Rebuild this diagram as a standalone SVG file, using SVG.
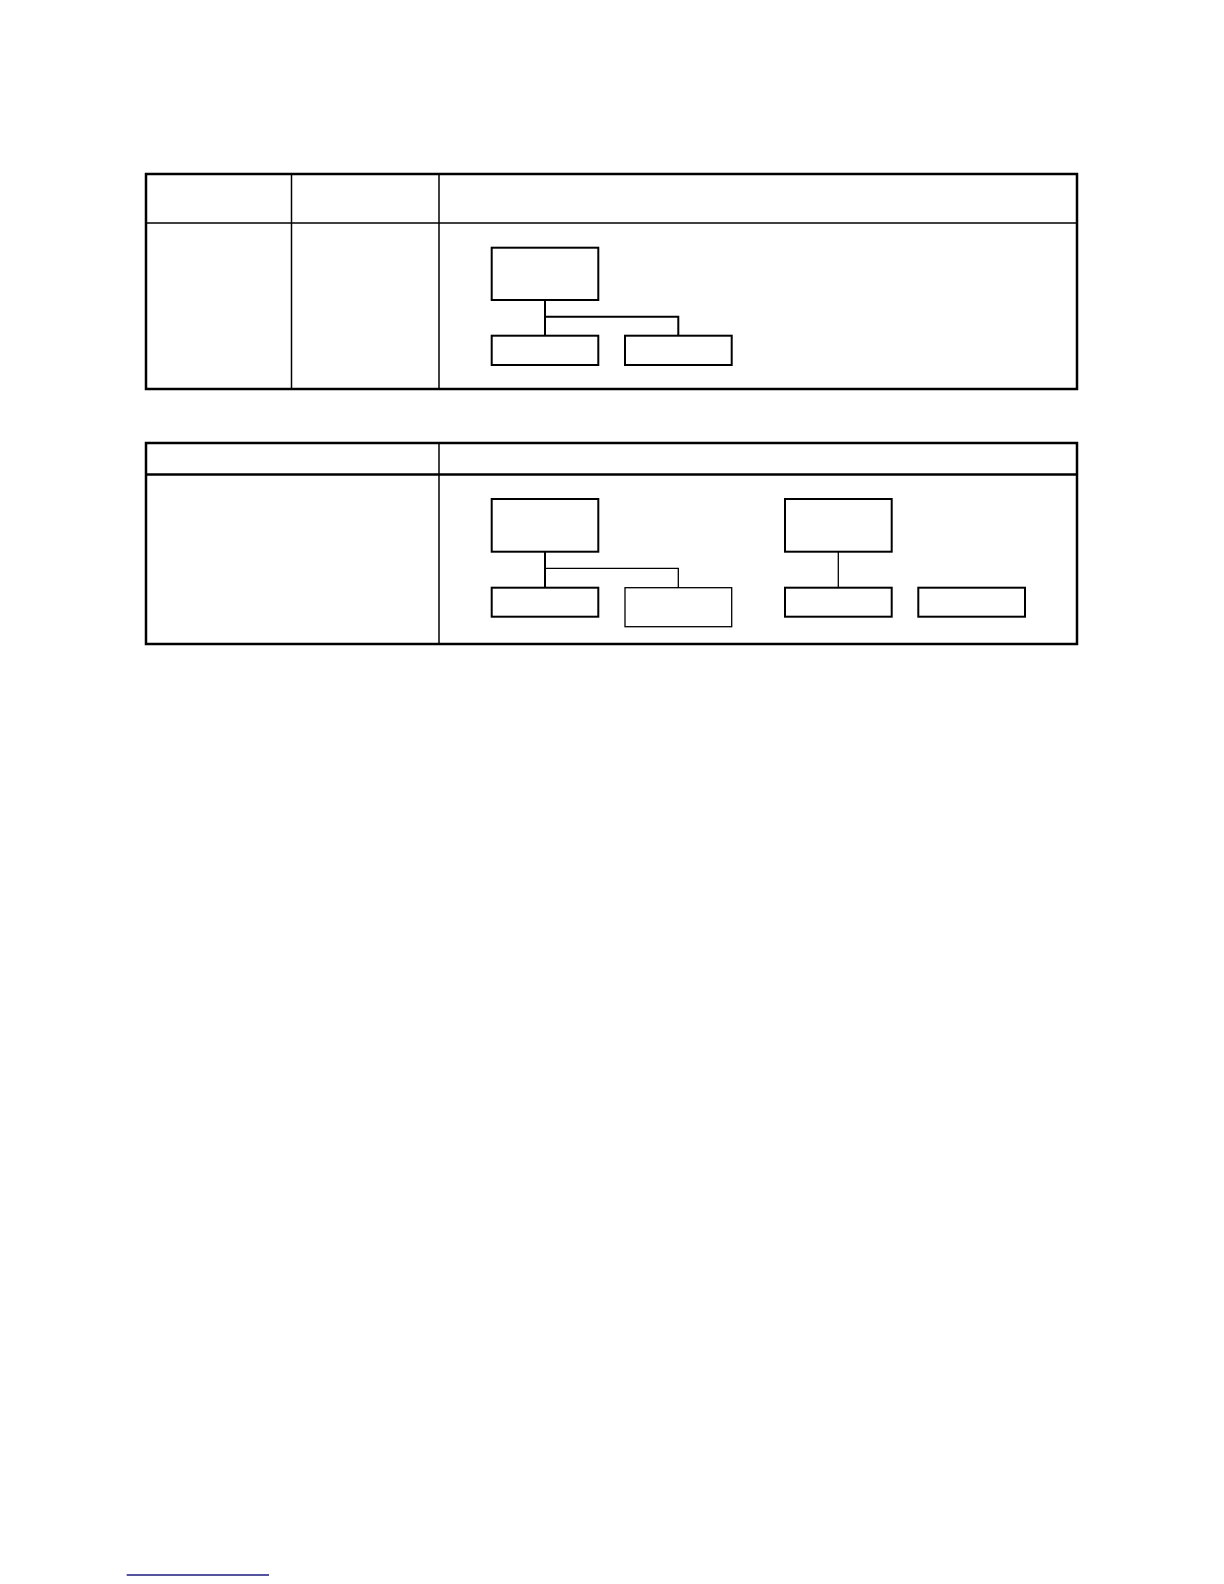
<svg xmlns="http://www.w3.org/2000/svg" width="1224" height="1584" viewBox="0 0 1224 1584">
<style>
.outer{fill:none;stroke:#000;stroke-width:2.5}
.grid{fill:none;stroke:#000;stroke-width:1.5}
.box{fill:#fff;stroke:#000;stroke-width:2}
.thin{fill:none;stroke:#000;stroke-width:1.3}
.link{fill:none;stroke:#000;stroke-width:2}
</style>
<rect width="1224" height="1584" fill="#fff"/>
<g id="table1">
<rect class="outer" x="146" y="174" width="931" height="215"/>
<line class="grid" x1="146" y1="223" x2="1077" y2="223"/>
<line class="grid" x1="291.5" y1="174" x2="291.5" y2="389"/>
<line class="grid" x1="439" y1="174" x2="439" y2="389"/>
</g>
<g id="table2">
<rect class="outer" x="146" y="443" width="931" height="201"/>
<line class="outer" x1="146" y1="474.5" x2="1077" y2="474.5"/>
<line class="grid" x1="439" y1="443" x2="439" y2="644"/>
</g>
<g id="connectors">
<path class="link" d="M545 300 V335.7 M545 316.7 H678.3 V335.7"/>
<path class="link" d="M545 551.7 V587.7"/>
<path class="thin" d="M545 568.3 H678.3 V587.7"/>
<path class="thin" d="M838.3 551.7 V587.7"/>
</g>
<g id="n1"><rect class="box" x="491.7" y="247.7" width="106.6" height="52.3"/></g>
<g id="n2"><rect class="box" x="491.7" y="335.7" width="106.6" height="29.3"/></g>
<g id="n3"><rect class="box" x="625" y="335.7" width="106.7" height="29.3"/></g>
<g id="n4"><rect class="box" x="491.7" y="499" width="106.6" height="52.7"/></g>
<g id="n5"><rect class="box" x="491.7" y="587.7" width="106.6" height="29"/></g>
<g id="n6"><rect class="thin" x="625" y="587.7" width="106.7" height="39"/></g>
<g id="n7"><rect class="box" x="785" y="499" width="106.7" height="52.7"/></g>
<g id="n8"><rect class="box" x="785" y="587.7" width="106.7" height="29"/></g>
<g id="n9"><rect class="box" x="918.3" y="587.7" width="106.7" height="29"/></g>
<line x1="126.7" y1="1575" x2="269" y2="1575" stroke="#1a1a80" stroke-width="1.3"/>
</svg>
